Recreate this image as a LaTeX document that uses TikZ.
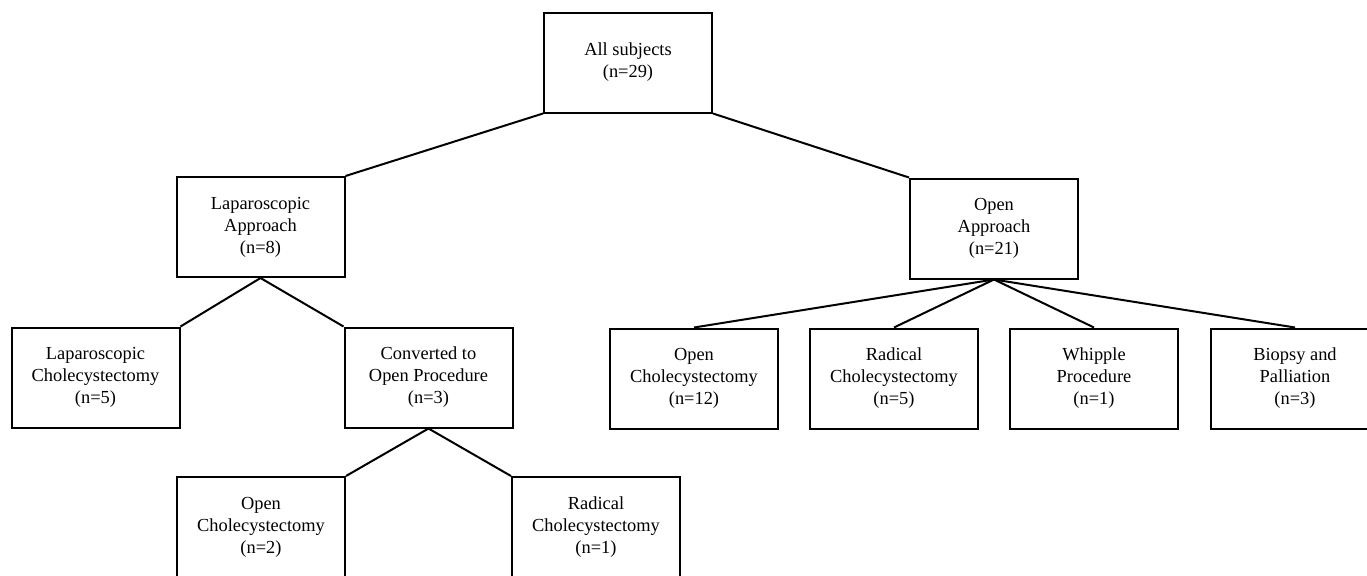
\documentclass[tikz,border=0pt]{standalone}
\usepackage{fontspec}
\setmainfont{Liberation Serif}
\usepackage{tikz}

\begin{document}
\begin{tikzpicture}[x=0.5pt, y=-0.5pt,
    box/.style = {rectangle, draw, line width=1pt,
        minimum width = 84pt, minimum height = 50pt,
        inner sep = 0pt, align = center,
        font = \fontsize{9.2}{11}\selectfont},
    link/.style = {line width=1pt}]

\useasboundingbox (0,0) rectangle (1367,575);

% Top level
\node[box] (all) at (628,62.5) {All subjects\\(n=29)};

% Approaches
\node[box] (lap) at (260.5,227) {Laparoscopic\\Approach\\(n=8)};
\node[box] (open) at (994,228.5) {Open\\Approach\\(n=21)};

% Laparoscopic branch
\node[box] (lapchol) at (95.5,377.5) {Laparoscopic\\Cholecystectomy\\(n=5)};
\node[box] (conv) at (428.5,377.5) {Converted to\\Open Procedure\\(n=3)};

% Converted branch
\node[box] (convopen) at (261,527) {Open\\Cholecystectomy\\(n=2)};
\node[box] (convrad) at (596,527) {Radical\\Cholecystectomy\\(n=1)};

% Open branch
\node[box] (openchol) at (694,378.5) {Open\\Cholecystectomy\\(n=12)};
\node[box] (openrad) at (894,378.5) {Radical\\Cholecystectomy\\(n=5)};
\node[box] (whipple) at (1094,378.5) {Whipple\\Procedure\\(n=1)};
\node[box] (biopsy) at (1295,378.5) {Biopsy and\\Palliation\\(n=3)};

% Links
\draw[link] (all.south west) -- (lap.north east);
\draw[link] (all.south east) -- (open.north west);
\draw[link] (lapchol.north east) -- (lap.south) -- (conv.north west);
\draw[link] (convopen.north east) -- (conv.south) -- (convrad.north west);
\foreach \leaf in {openchol, openrad, whipple, biopsy}
    \draw[link] (open.south) -- (\leaf.north);
\end{tikzpicture}
\end{document}
